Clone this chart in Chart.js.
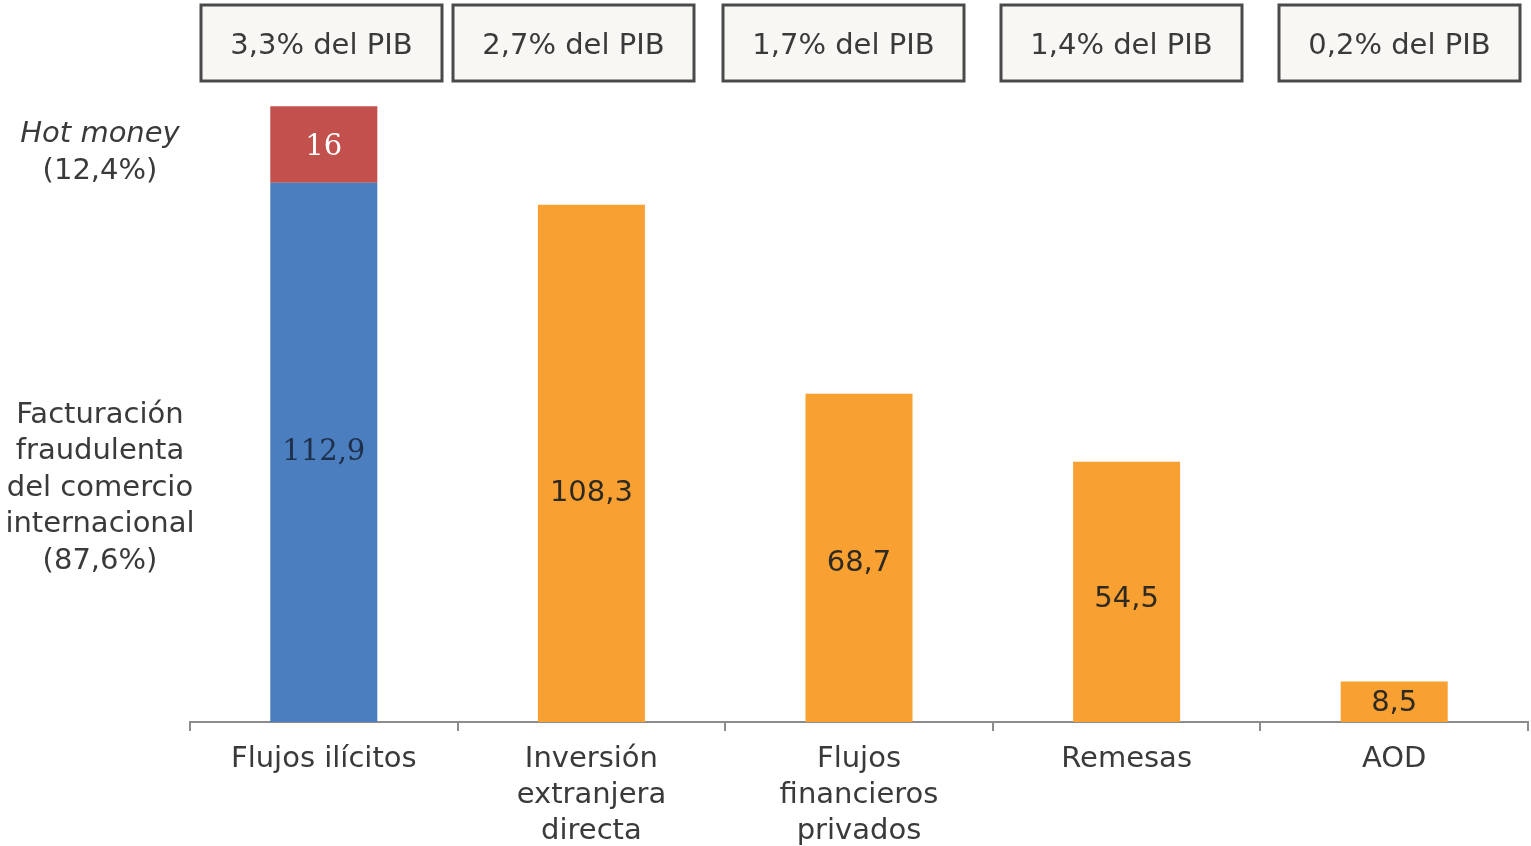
<!DOCTYPE html>
<html><head><meta charset="utf-8">
<script src="https://cdn.jsdelivr.net/npm/chart.js@4/dist/chart.umd.min.js"></script>
<style>html,body{margin:0;padding:0;background:#fff;}#wrap{position:relative;width:1531px;height:846px;}</style>
</head><body><div id="wrap"><canvas id="c" width="1531" height="846"></canvas></div>
<script>
const categories = [["Flujos ilícitos"], ["Inversión","extranjera","directa"], ["Flujos","financieros","privados"], ["Remesas"], ["AOD"]];
const fraudValues = [112.9, null, null, null, null];
const hotMoneyValues = [16, null, null, null, null];
const otherFlowValues = [null, 108.3, 68.7, 54.5, 8.5];
const pibLabels = ["3,3% del PIB", "2,7% del PIB", "1,7% del PIB", "1,4% del PIB", "0,2% del PIB"];
const hotMoneyNote = ["Hot money", "(12,4%)"];
const fraudNote = ["Facturación", "fraudulenta", "del comercio", "internacional", "(87,6%)"];

const FONT = "'DejaVu Sans', Verdana, sans-serif";
const TEXT = "#3a3a3a";

const fmt = v => String(v).replace('.', ',');

const overlay = {
  id: 'overlay',
  afterDatasetsDraw(chart) {
    const ctx = chart.ctx;
    ctx.save();
    ctx.textAlign = 'center';
    ctx.textBaseline = 'middle';
    const otherShift = [0, 30, 6, 8, 2];
    chart.data.datasets.forEach((ds, di) => {
      const meta = chart.getDatasetMeta(di);
      meta.data.forEach((el, i) => {
        const v = ds.data[i];
        if (v == null) return;
        const extra = di === 2 ? otherShift[i] : 0;
        const y = (el.y + el.base) / 2 + (ds.labelShift || 0) + extra;
        ctx.font = ds.labelFont;
        ctx.fillStyle = ds.labelColor;
        ctx.fillText(fmt(v), el.x, y);
      });
    });
    const boxLeft = [201, 453, 723, 1001, 1279];
    ctx.font = "29px " + FONT;
    pibLabels.forEach((t, i) => {
      const x = boxLeft[i], y = 5, w = 241, h = 76;
      ctx.fillStyle = '#f8f7f3';
      ctx.fillRect(x, y, w, h);
      ctx.strokeStyle = '#4a4a4a';
      ctx.lineWidth = 3;
      ctx.strokeRect(x, y, w, h);
      ctx.fillStyle = TEXT;
      ctx.fillText(t, x + w / 2, y + h / 2 + 3);
    });
    ctx.fillStyle = TEXT;
    ctx.font = "italic 29px " + FONT;
    ctx.fillText(hotMoneyNote[0], 100, 134);
    ctx.font = "29px " + FONT;
    ctx.fillText(hotMoneyNote[1], 100, 171);
    fraudNote.forEach((t, i) => ctx.fillText(t, 100, 415 + i * 36.5));
    ctx.restore();
  }
};

new Chart(document.getElementById('c'), {
  type: 'bar',
  data: {
    labels: categories,
    datasets: [
      { label: 'Facturación fraudulenta', data: fraudValues, backgroundColor: 'rgb(74,126,191)',
        labelFont: "29px 'DejaVu Serif', serif", labelColor: '#1f2f4a', labelShift: 0 },
      { label: 'Hot money', data: hotMoneyValues, backgroundColor: 'rgb(194,80,77)',
        labelFont: "29px 'DejaVu Serif', serif", labelColor: '#ffffff', labelShift: 3 },
      { label: 'Otros flujos', data: otherFlowValues, backgroundColor: 'rgb(248,161,50)',
        labelFont: "29px " + FONT, labelColor: '#2e2a22', labelShift: 0 }
    ]
  },
  options: {
    responsive: false,
    animation: false,
    layout: { padding: { left: 190, right: 3, top: 101, bottom: 0 } },
    plugins: { legend: { display: false }, tooltip: { enabled: false } },
    datasets: { bar: { categoryPercentage: 1.0, barPercentage: 0.4, skipNull: false } },
    scales: {
      x: {
        stacked: true,
        afterFit(s) { s.height = 124; },
        border: { display: true, color: '#8c8c8c', width: 2 },
        grid: { display: true, drawOnChartArea: false, offset: true, tickLength: 9, color: '#8c8c8c', lineWidth: 2 },
        ticks: { color: TEXT, font: { family: FONT, size: 29, lineHeight: 1.25 }, padding: 10, maxRotation: 0, autoSkip: false }
      },
      y: {
        stacked: true, display: false, min: 0, max: 130
      }
    }
  },
  plugins: [overlay]
});
</script></body></html>
